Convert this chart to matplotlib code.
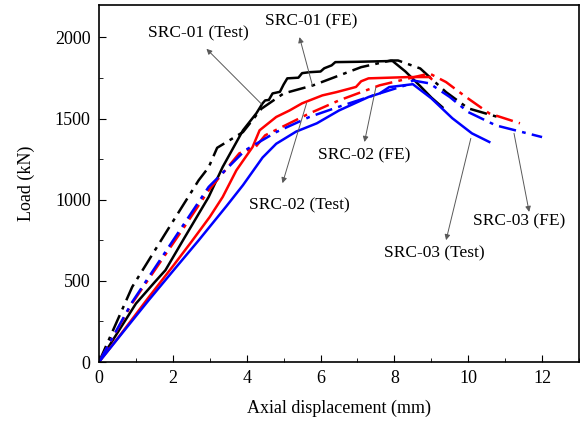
import matplotlib
matplotlib.use("Agg")
import matplotlib.pyplot as plt
from matplotlib.ticker import MultipleLocator

plt.rcParams['font.family'] = ['Liberation Serif', 'DejaVu Serif']

# SRC-01 (Test) - black solid
x01t = [0, 0.5, 1.0, 1.5, 1.8, 2.3, 2.97, 3.35, 3.9, 4.26, 4.43, 4.5, 4.6, 4.7, 4.9, 5.0, 5.1, 5.4, 5.5, 5.7, 6.0, 6.1, 6.3, 6.4, 7.0, 7.95, 8.3, 8.7, 9.0, 9.3]
y01t = [0, 180, 360, 490, 566, 760, 1017, 1202, 1428, 1532, 1594, 1612, 1615, 1655, 1665, 1710, 1748, 1752, 1780, 1786, 1790, 1810, 1828, 1848, 1850, 1855, 1790, 1700, 1630, 1570]
# SRC-01 (FE) - black dash-dot
x01f = [0, 0.9, 1.8, 2.7, 2.97, 3.2, 3.9, 4.4, 5.0, 5.8, 7.1, 7.9, 8.1, 8.7, 9.4, 10.0, 10.8]
y01f = [0, 463, 793, 1120, 1200, 1320, 1417, 1561, 1655, 1705, 1817, 1858, 1858, 1809, 1663, 1563, 1510]
# SRC-02 (Test) - red solid
x02t = [0, 0.54, 1.35, 2.0, 2.5, 3.0, 3.35, 3.72, 4.16, 4.35, 4.8, 5.16, 5.5, 6.05, 6.43, 6.96, 7.1, 7.3, 8.4, 8.95, 9.0]
y02t = [0, 156, 400, 590, 740, 894, 1017, 1181, 1325, 1428, 1510, 1550, 1594, 1643, 1663, 1695, 1730, 1748, 1756, 1756, 1745]
# SRC-02 (FE) - red dash-dot
x02f = [0, 0.9, 2.25, 2.97, 3.8, 4.24, 4.5, 5.7, 6.5, 7.6, 8.95, 9.4, 9.94, 10.57, 11.4]
y02f = [0, 363, 812, 1058, 1286, 1325, 1397, 1532, 1612, 1705, 1778, 1725, 1633, 1532, 1471]
# SRC-03 (Test) - blue solid
x03t = [0, 0.6, 1.35, 2.0, 2.7, 3.45, 3.9, 4.43, 4.8, 5.34, 5.9, 6.5, 6.8, 7.3, 7.6, 7.86, 8.5, 9.0, 9.57, 10.1, 10.57]
y03t = [0, 170, 382, 560, 750, 960, 1090, 1260, 1345, 1420, 1471, 1550, 1581, 1633, 1655, 1694, 1712, 1625, 1502, 1409, 1356]
# SRC-03 (FE) - blue dash-dot
x03f = [0, 0.9, 2.25, 2.97, 3.96, 4.8, 5.7, 6.6, 7.6, 8.3, 8.5, 8.95, 9.5, 10.0, 10.75, 12.0]
y03f = [0, 370, 833, 1079, 1305, 1417, 1510, 1581, 1655, 1705, 1735, 1717, 1633, 1540, 1458, 1386]

labels = ['SRC-01 (Test)', 'SRC-01 (FE)', 'SRC-02 (FE)', 'SRC-02 (Test)', 'SRC-03 (Test)', 'SRC-03 (FE)']
# annotation: text position, arrow head, arrow tail (on curve)
text_xy = [(2.68, 2025), (5.76, 2098), (7.19, 1274), (5.43, 966), (9.08, 671), (11.38, 868)]
head_xy = [(2.91, 1930), (5.43, 2002), (7.19, 1356), (4.97, 1102), (9.40, 751), (11.65, 925)]
tail_xy = [(4.40, 1590), (5.78, 1705), (7.50, 1694), (5.62, 1594), (10.07, 1378), (11.24, 1409)]

fig = plt.figure(figsize=(5.83, 4.23), dpi=100)
ax = fig.add_axes([99/583, (423-362)/423, (579-99)/583, (362-5)/423])

dd = (0, (7, 2.5, 1.5, 2.5))
ax.plot(x01t, y01t, color='black', lw=1.8)
ax.plot(x01f, y01f, color='black', lw=1.8, linestyle=dd)
ax.plot(x02t, y02t, color='#ff0000', lw=1.8)
ax.plot(x02f, y02f, color='#ff0000', lw=1.8, linestyle=dd)
ax.plot(x03t, y03t, color='#0000ff', lw=1.8)
ax.plot(x03f, y03f, color='#0000ff', lw=1.8, linestyle=dd)

for lab, t, h, s in zip(labels, text_xy, head_xy, tail_xy):
    ax.text(t[0], t[1], lab, ha='center', va='center', fontsize=12.5)
    ax.annotate('', xy=h, xytext=s,
                arrowprops=dict(arrowstyle='-|>', color='0.35', lw=0.7,
                                mutation_scale=8, shrinkA=0, shrinkB=0))

ax.set_xlim(0, 13)
ax.set_ylim(0, 2200)
ax.xaxis.set_major_locator(MultipleLocator(2))
ax.xaxis.set_minor_locator(MultipleLocator(1))
ax.yaxis.set_major_locator(MultipleLocator(500))
ax.yaxis.set_minor_locator(MultipleLocator(250))
ax.tick_params(which='both', direction='in', top=False, right=False, labelsize=13, pad=6)
ax.tick_params(which='major', length=5)
ax.tick_params(which='minor', length=3)
for sp in ax.spines.values():
    sp.set_linewidth(1.2)
ax.set_xlabel('Axial displacement (mm)', fontsize=13, labelpad=9)
ax.set_ylabel('Load (kN)', fontsize=13, labelpad=14)

fig.savefig('out.png', dpi=100)
